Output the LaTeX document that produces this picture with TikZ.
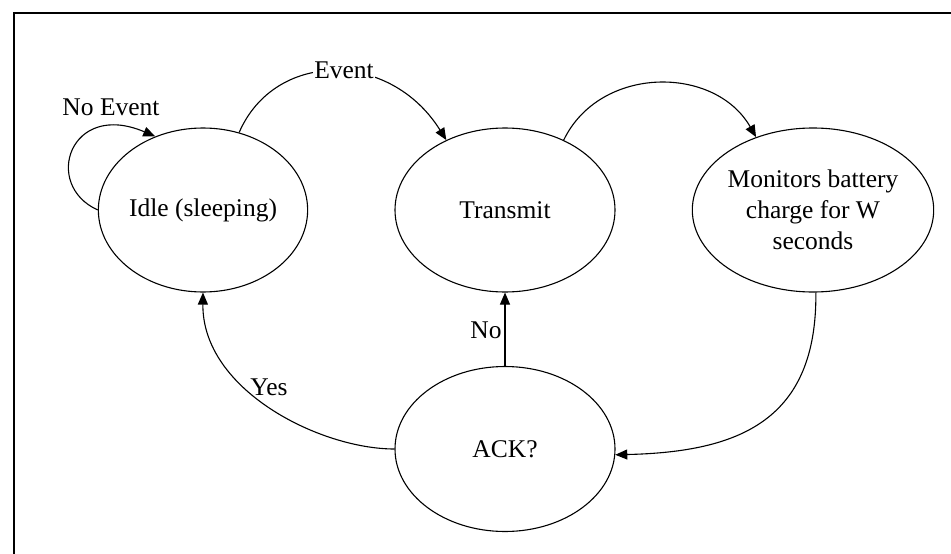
\documentclass[tikz,border=0pt]{standalone}
\usepackage{fontspec}
\setmainfont{Liberation Serif}
\usetikzlibrary{arrows.meta,shapes.geometric}
\begin{document}
\begin{tikzpicture}[x=1pt,y=-1pt,
  every node/.style={font=\fontsize{25.5}{31}\selectfont},
  state/.style={draw,ellipse,line width=1.1pt,inner sep=0pt,align=center},
  edge/.style={line width=1.1pt,-{Triangle[length=12pt,width=10pt]}},
  lbl/.style={inner sep=1pt,anchor=base}]
\useasboundingbox (0,0) rectangle (951,554);
\draw[line width=1.8pt] (14,554) -- (14,13) -- (951,13);
\node[state,minimum width=204pt,minimum height=164pt] (idle) at (203,210) {Idle (sleeping)};
\node[state,minimum width=220pt,minimum height=164pt] (transmit) at (505,210) {Transmit};
\node[state,minimum width=220pt,minimum height=164pt] (monitors) at (813,210) {Monitors battery\\charge for W\\seconds};
\node[state,minimum width=220pt,minimum height=165pt] (ack) at (505,449) {ACK?};
\draw[edge] (idle.west) .. controls (42,185) and (70,100) .. (idle.123);
\draw[edge] (idle.65) .. controls (275,50) and (390,50) .. (transmit.130);
\draw[edge] (transmit.50) .. controls (600,65) and (715,65) .. (monitors.128);
\draw[edge] (monitors.272) .. controls (817,420) and (740,452) .. (ack.357);
\draw[edge] (ack.north) -- (transmit.south);
\draw[edge] (ack.west) .. controls (320,449) and (202,390) .. (idle.south);
\node[lbl] (lnoev) at (111,115) {No Event};
\node[lbl,fill=white] (lev) at (344,78) {Event};
\node[lbl] (lno) at (486,338) {No};
\node[lbl] (lyes) at (269,395) {Yes};
\end{tikzpicture}
\end{document}
